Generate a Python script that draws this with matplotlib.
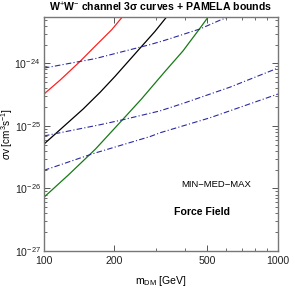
import matplotlib
matplotlib.use("Agg")
import matplotlib.pyplot as plt
import numpy as np
from matplotlib.ticker import FixedLocator, NullFormatter, LogLocator

plt.rcParams['font.family'] = ['Liberation Sans', 'DejaVu Sans']
plt.rcParams['mathtext.fontset'] = 'custom'
plt.rcParams['mathtext.rm'] = 'Liberation Sans'
plt.rcParams['mathtext.it'] = 'Liberation Sans:italic'
plt.rcParams['mathtext.bf'] = 'Liberation Sans:bold'

# 3 sigma curves: m_DM [GeV], log10(sigma v)
red_m = [100, 117, 142.5, 165, 195, 216]
red_lsv = [-24.49, -24.27, -23.97, -23.73, -23.46, -23.26]
black_m = [100, 147, 174, 201, 257, 298, 334]
black_lsv = [-25.29, -24.73, -24.46, -24.21, -23.76, -23.49, -23.26]
green_m = [100, 127.5, 166, 218, 261, 293, 329, 393, 464, 503]
green_lsv = [-26.14, -25.78, -25.37, -24.89, -24.57, -24.35, -24.13, -23.80, -23.44, -23.26]

# PAMELA bounds (MIN-MED-MAX)
pam_hi_m = [100, 165, 284, 329, 464, 565, 614]
pam_hi_lsv = [-24.075, -23.925, -23.70, -23.63, -23.45, -23.31, -23.26]
pam_med_m = [100, 174, 218, 313, 393, 624, 1000]
pam_med_lsv = [-25.16, -24.98, -24.90, -24.76, -24.64, -24.38, -24.075]
pam_lo_m = [100, 163, 284, 313, 512, 1000]
pam_lo_lsv = [-25.71, -25.44, -25.17, -25.11, -24.87, -24.49]

xticks = [100, 200, 500, 1000]
xticklabels = ['100', '200', '500', '1000']
xminor = [300, 400, 600, 700, 800, 900]

fig = plt.figure(figsize=(2.95, 2.95), dpi=100)
ax = fig.add_axes([0.149, 0.149, 0.793, 0.793])

def sv(l):
    return [10.0 ** v for v in l]

ax.plot(red_m, sv(red_lsv), color='#ff2020', lw=0.9)
ax.plot(black_m, sv(black_lsv), color='black', lw=0.9)
ax.plot(green_m, sv(green_lsv), color='#167a16', lw=0.9)
for m, s in [(pam_hi_m, pam_hi_lsv), (pam_med_m, pam_med_lsv), (pam_lo_m, pam_lo_lsv)]:
    ax.plot(m, sv(s), color='#2a2aa0', lw=0.8, ls=(0, (5, 2, 1, 2)))

ax.set_xscale('log')
ax.set_yscale('log')
ax.set_xlim(100, 1000)
ax.set_ylim(1e-27, 10 ** -23.26)

ax.xaxis.set_major_locator(FixedLocator(xticks))
ax.set_xticklabels(xticklabels)
ax.xaxis.set_minor_locator(FixedLocator(xminor))
ax.xaxis.set_minor_formatter(NullFormatter())
ax.yaxis.set_major_locator(FixedLocator([1e-27, 1e-26, 1e-25, 1e-24]))
ax.yaxis.set_minor_locator(LogLocator(base=10, subs=np.arange(2, 10), numticks=20))
ax.yaxis.set_minor_formatter(NullFormatter())

ax.tick_params(which='both', direction='in', top=True, right=True, labelsize=7.6, colors='#222222')
ax.tick_params(axis='x', pad=3.5)
ax.tick_params(axis='y', pad=2.5)
ax.tick_params(which='major', length=4, width=0.7, color='#555555')
ax.tick_params(which='minor', length=2, width=0.6, color='#555555')
for sp in ax.spines.values():
    sp.set_color('#777777')
    sp.set_linewidth(1.0)

ax.set_title(r'W$^{+}$W$^{-}$ channel 3$\mathbf{\sigma}$ curves + PAMELA bounds', fontsize=7.6, fontweight='bold', pad=4)
ax.set_xlabel(r'm$_{\rm DM}$ [GeV]', fontsize=7.6)
ax.set_ylabel(r'$\sigma$v [cm$^{3}$s$^{-1}$]', fontsize=7.2)
ax.yaxis.set_label_coords(-0.122, 0.5)
ax.xaxis.set_label_coords(0.5, -0.10)

ax.text(0.735, 0.285, 'MIN\u2212MED\u2212MAX', transform=ax.transAxes, fontsize=6.8, ha='center', va='center')
ax.text(0.674, 0.165, 'Force Field', transform=ax.transAxes, fontsize=7.6, fontweight='bold', ha='center', va='center')

fig.savefig('out.png', dpi=100)
